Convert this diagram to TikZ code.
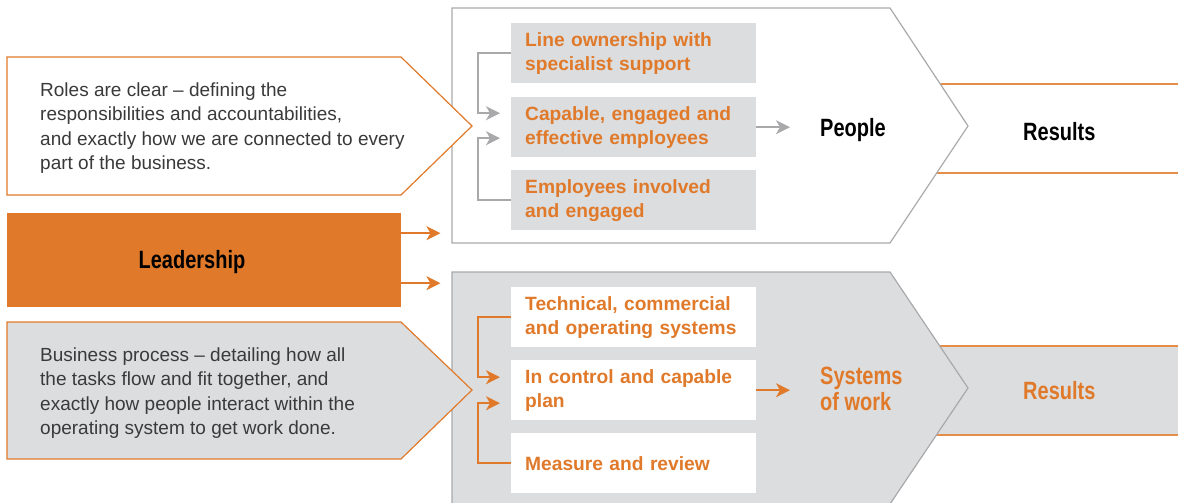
\documentclass[tikz,border=0pt]{standalone}
\usepackage{fontspec}
\setmainfont{Liberation Sans}
\newfontfamily\condfont[FakeStretch=0.8]{Liberation Sans}
\usetikzlibrary{arrows.meta,positioning}
\definecolor{bporange}{HTML}{E07A2A}
\definecolor{bpgrey}{HTML}{DCDDDF}
\definecolor{bpline}{HTML}{A9A9AB}
\definecolor{bptext}{HTML}{3A3A3A}
\tikzset{
  itembox/.style={anchor=north west, minimum width=245pt, minimum height=60pt, text width=217pt,
    inner xsep=14pt, inner ysep=0pt, align=left, text=bporange,
    font=\fontsize{19.2}{24}\selectfont\bfseries},
  bodytext/.style={anchor=west, align=left, inner sep=0pt, text=bptext,
    font=\fontsize{19}{24.3}\selectfont},
  headtext/.style={anchor=west, align=left, inner sep=0pt,
    font=\condfont\bfseries\fontsize{25}{26}\selectfont},
  greyfeed/.style={draw=bpline, line width=1.7pt, -{Stealth[length=14pt,width=14pt,inset=4pt]}},
  orangefeed/.style={draw=bporange, line width=1.7pt, -{Stealth[length=14pt,width=14pt,inset=4pt]}},
  bandline/.style={draw=bporange!85, line width=1.5pt}
}

\begin{document}
\begin{tikzpicture}[x=1pt,y=-1pt]
	%%%%% START %%%%%
	\useasboundingbox (0,0) rectangle (1178,503);
	\clip (0,0) rectangle (1178,503);
	
	% results bands
	\fill[bpgrey] (930,346) rectangle (1178,435);
	\draw[bandline] (940,84) -- (1178,84);
	\draw[bandline] (937,173) -- (1178,173);
	\draw[bandline] (940,346) -- (1178,346);
	\draw[bandline] (936,435) -- (1178,435);
	
	% people and systems chevrons
	\draw[draw=bpline, line width=1.2pt, fill=white] (452,8) -- (890,8) -- (968,126) -- (890,243) -- (452,243) -- cycle;
	\draw[draw=bpline, line width=1.2pt, fill=bpgrey] (452,272) -- (890,272) -- (968,388) -- (890,504) -- (452,504) -- cycle;
	
	% left side
	\draw[draw=bporange, line width=1.2pt, fill=white] (7,57) -- (401,57) -- (472,126) -- (401,195) -- (7,195) -- cycle;
	\draw[draw=bporange, line width=1.2pt, fill=bpgrey] (7,322) -- (401,322) -- (472,390) -- (401,459) -- (7,459) -- cycle;
	\node[anchor=north west, minimum width=394pt, minimum height=94pt, inner sep=0pt, fill=bporange] (lead) at (7,213) {};
	
	\node[bodytext] (roles) at (40,128) {Roles are clear -- defining the\\responsibilities and accountabilities,\\and exactly how we are connected to every\\part of the business.};
	\node[bodytext] (process) at (40,393) {Business process -- detailing how all\\the tasks flow and fit together, and\\exactly how people interact within the\\operating system to get work done.};
	\node[headtext, anchor=center] (leadtxt) at (192,262) {Leadership};
	
	\draw[orangefeed] ([yshift=27pt]lead.east) -- ++(39,0);
	\draw[orangefeed] ([yshift=-23pt]lead.east) -- ++(39,0);
	
	% people items
	\node[itembox, fill=bpgrey] (own) at (511,23) {Line ownership with\\specialist support};
	\node[itembox, fill=bpgrey] (cap) at (511,97) {Capable, engaged and\\effective employees};
	\node[itembox, fill=bpgrey] (inv) at (511,170) {Employees involved\\and engaged};
	
	\node[headtext] (ppl) at (820,130) {People};
	\node[headtext] (res1) at (1023,132) {Results};
	
	\draw[greyfeed] (own.west) -- ++(-33,0) |- ([shift={(-11pt,14pt)}]cap.west);
	\draw[greyfeed] (inv.west) -- ++(-33,0) |- ([shift={(-11pt,-11pt)}]cap.west);
	\draw[greyfeed, shorten >=30pt] (cap.east) -- (cap.east -| ppl.west);
	
	% systems items
	\node[itembox, fill=white] (tech) at (511,287) {Technical, commercial\\and operating systems};
	\node[itembox, fill=white] (ctrl) at (511,360) {In control and capable\\plan};
	\node[itembox, fill=white] (meas) at (511,433) {Measure and review};
	
	\node[headtext, text=bporange] (sow) at (820,389) {Systems\\of work};
	\node[headtext, text=bporange] (res2) at (1023,391) {Results};
	
	\draw[orangefeed] (tech.west) -- ++(-33,0) |- ([shift={(-11pt,13pt)}]ctrl.west);
	\draw[orangefeed] (meas.west) -- ++(-33,0) |- ([shift={(-11pt,-13pt)}]ctrl.west);
	\draw[orangefeed, shorten >=30pt] (ctrl.east) -- (ctrl.east -| sow.west);
	
	%%%%% END %%%%%
\end{tikzpicture}
\end{document}
